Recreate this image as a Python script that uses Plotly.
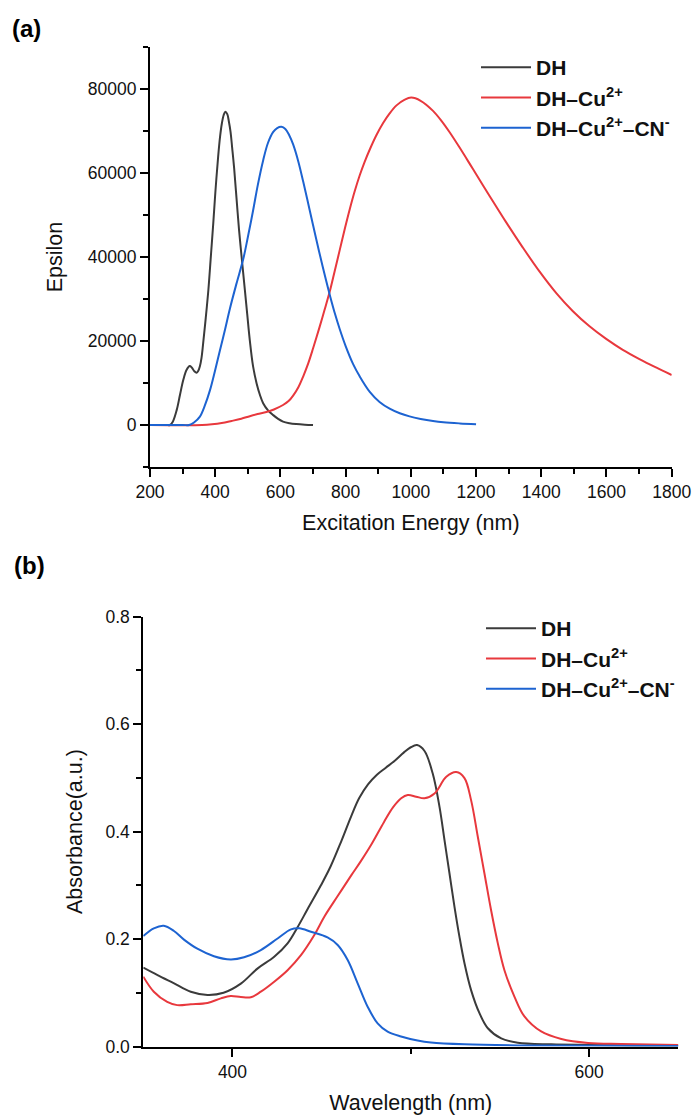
import plotly.graph_objects as go

# ---------------- Panel (a): computed spectra ----------------
a_dh_x = [200, 250, 261, 270, 282, 292, 302, 312, 322, 328, 336, 343, 348, 353, 358, 363, 371, 379,
          386, 394, 401, 409, 415, 420, 426, 431, 437, 442, 447, 452, 458, 465, 473, 481, 491, 498,
          506, 516, 527, 537, 547, 562, 578, 593, 608, 628, 649, 675, 700]
a_dh_y = [0, 0, 0, 800, 3600, 7200, 10700, 13100, 14050, 13700, 12800, 12460, 12900, 14000, 16000,
          19450, 25500, 32140, 39500, 48000, 56000, 63900, 68700, 71600, 73800, 74600, 74000, 72200,
          69800, 66000, 61200, 54300, 46500, 40000, 32100, 26500, 20200, 14000, 9900, 7200, 5200,
          3500, 2350, 1450, 800, 420, 220, 80, 0]

a_cu_x = [200, 360, 390, 420, 450, 480, 506, 530, 557, 580, 608, 625, 639, 655, 670, 685, 700, 720,
          735, 751, 766, 782, 798, 813, 828, 843, 858, 874, 895, 915, 935, 956, 980, 1001, 1030, 1068,
          1095, 1119, 1150, 1190, 1241, 1292, 1343, 1395, 1446, 1497, 1548, 1599, 1650, 1701, 1752, 1800]
a_cu_y = [0, 0, 150, 450, 950, 1500, 2100, 2600, 3100, 3700, 4760, 5700, 7000, 9000, 11600, 14600,
          18200, 23300, 27300, 31700, 36500, 41700, 46900, 51500, 55700, 59400, 62600, 65600, 69100,
          71900, 74200, 76100, 77400, 77950, 77200, 74800, 72300, 69700, 66000, 61000, 54600, 48300,
          42300, 36500, 31400, 27100, 23500, 20500, 17900, 15700, 13700, 11900]

a_cn_x = [200, 300, 320, 335, 353, 368, 384, 399, 414, 430, 445, 465, 486, 500, 516, 531, 547, 562,
          578, 590, 603, 615, 627, 639, 655, 670, 685, 700, 718, 735, 753, 768, 782, 800, 823, 843,
          874, 904, 935, 966, 996, 1030, 1068, 1100, 1150, 1200]
a_cn_y = [0, 0, 0, 600, 2000, 4600, 8300, 12800, 17600, 22700, 27700, 33600, 39500, 44700, 51000,
          57300, 63000, 67200, 69800, 70700, 71000, 70500, 69000, 66800, 62700, 57900, 52800, 47600,
          41500, 36000, 30500, 26300, 22800, 18800, 14500, 11600, 7900, 5500, 3900, 2800, 2050, 1450,
          950, 650, 380, 200]

# ---------------- Panel (b): absorbance spectra ----------------
b_dh_x = [350, 358, 367, 376.6, 386, 395, 404.7, 414, 423.4, 430.9, 436.5, 442, 449.6, 455, 461,
          466.5, 471, 476, 481, 486, 491, 496, 500, 503.5, 507.7, 512.3, 516.1, 518.9, 521.7, 524.5,
          527.3, 530.1, 533.8, 538.5, 543.2, 550.7, 560, 578.8, 600, 625, 650]
b_dh_y = [0.147, 0.133, 0.118, 0.102, 0.096, 0.100, 0.117, 0.145, 0.167, 0.192, 0.222, 0.255, 0.300,
          0.335, 0.382, 0.428, 0.462, 0.488, 0.506, 0.519, 0.532, 0.547, 0.557, 0.561, 0.550, 0.508,
          0.446, 0.384, 0.322, 0.260, 0.204, 0.155, 0.105, 0.062, 0.034, 0.015, 0.007, 0.004, 0.003,
          0.002, 0.002]

b_cu_x = [350, 355.9, 363.4, 369, 376.6, 386, 393.5, 399, 404.7, 410.3, 415.9, 423.4, 430.9, 438.4,
          445.9, 451.5, 459, 466.5, 472, 477.7, 485, 490, 494.6, 498.3, 503, 507.7, 513.3, 519.9,
          525.5, 530.1, 533.8, 537.6, 541.3, 545, 548.8, 552.5, 558.1, 563.7, 573.1, 584.4, 599.4,
          618, 650]
b_cu_y = [0.130, 0.102, 0.083, 0.077, 0.0786, 0.081, 0.0896, 0.094, 0.092, 0.0917, 0.102, 0.1206,
          0.142, 0.170, 0.2075, 0.2415, 0.280, 0.318, 0.345, 0.375, 0.418, 0.445, 0.462, 0.468, 0.465,
          0.462, 0.471, 0.502, 0.511, 0.4996, 0.4586, 0.390, 0.322, 0.254, 0.192, 0.142, 0.093, 0.056,
          0.028, 0.014, 0.0066, 0.0047, 0.003]

b_cn_x = [350, 355.9, 361.5, 367.2, 372.8, 380.3, 389.6, 399, 406.5, 415.9, 425.3, 432.8, 437.5, 444,
          453.3, 459, 464.6, 470.2, 475.8, 481.4, 487, 494.5, 503.8, 511.3, 530, 560, 600, 650]
b_cn_y = [0.2056, 0.220, 0.2248, 0.215, 0.199, 0.182, 0.168, 0.162, 0.166, 0.1795, 0.201, 0.218,
          0.220, 0.2136, 0.203, 0.189, 0.161, 0.1176, 0.074, 0.043, 0.0276, 0.0186, 0.0111, 0.0074,
          0.004, 0.002, 0.0015, 0.001]

series_names = ['<b>DH</b>', '<b>DH–Cu<sup>2+</sup></b>', '<b>DH–Cu<sup>2+</sup>–CN<sup>-</sup></b>']
series_colors = ['#3b3b3b', '#e8383d', '#1d63d1']

FONT = 'Liberation Sans, Arial, sans-serif'

fig = go.Figure()

panel_a = [(a_dh_x, a_dh_y), (a_cu_x, a_cu_y), (a_cn_x, a_cn_y)]
panel_b = [(b_dh_x, b_dh_y), (b_cu_x, b_cu_y), (b_cn_x, b_cn_y)]

for i, (xs, ys) in enumerate(panel_a):
    fig.add_trace(go.Scatter(x=xs, y=ys, mode='lines', name=series_names[i],
                             line=dict(color=series_colors[i], width=2, shape='spline', smoothing=1.0),
                             xaxis='x', yaxis='y', legend='legend', legendgroup='a%d' % i))
for i, (xs, ys) in enumerate(panel_b):
    fig.add_trace(go.Scatter(x=xs, y=ys, mode='lines', name=series_names[i],
                             line=dict(color=series_colors[i], width=2, shape='spline', smoothing=1.0),
                             xaxis='x2', yaxis='y2', legend='legend2', legendgroup='b%d' % i))

W, H = 695, 1115
tickfont = dict(family=FONT, size=17.5, color='#111111')
titlefont = dict(family=FONT, size=21.5, color='#111111')
axis_common = dict(showline=True, linecolor='black', linewidth=2, ticks='outside', ticklen=8,
                   tickwidth=2, tickcolor='black', showgrid=False, zeroline=False,
                   tickfont=tickfont, automargin=False)

fig.update_layout(
    width=W, height=H,
    margin=dict(l=0, r=0, t=0, b=0, autoexpand=False),
    paper_bgcolor='white', plot_bgcolor='white',
    font=dict(family=FONT, color='#111111'),
    xaxis=dict(domain=[150 / W, 671.7 / W], anchor='y', range=[200, 1800], dtick=200, tick0=0,
               minor=dict(dtick=100, ticks='outside', ticklen=5, tickwidth=2, tickcolor='black'),
               title=dict(text='Excitation Energy (nm)', font=titlefont, standoff=14),
               **axis_common),
    yaxis=dict(domain=[1 - 467 / H, 1 - 47 / H], anchor='x', range=[-10000, 90000], dtick=20000,
               tick0=0, tickformat='d',
               minor=dict(dtick=10000, tick0=0, ticks='outside', ticklen=5, tickwidth=2, tickcolor='black'),
               title=dict(text='Epsilon', font=titlefont, standoff=19),
               **axis_common),
    xaxis2=dict(domain=[143.3 / W, 678.3 / W], anchor='y2', range=[350, 650], dtick=200, tick0=0,
                minor=dict(dtick=100, ticks='outside', ticklen=5, tickwidth=2, tickcolor='black'),
                title=dict(text='Wavelength (nm)', font=titlefont, standoff=14),
                **axis_common),
    yaxis2=dict(domain=[1 - 1046.5 / H, 1 - 616.7 / H], anchor='x2', range=[0, 0.8], dtick=0.2,
                tick0=0, tickformat='.1f',
                minor=dict(dtick=0.1, ticks='outside', ticklen=5, tickwidth=2, tickcolor='black'),
                title=dict(text='Absorbance(a.u.)', font=titlefont, standoff=17),
                **axis_common),
    legend=dict(x=476 / W, y=1 - 47 / H, xanchor='left', yanchor='top', bgcolor='rgba(0,0,0,0)',
                font=dict(family=FONT, size=21, color='#111111'), itemwidth=50, tracegroupgap=0),
    legend2=dict(x=481 / W, y=1 - 608 / H, xanchor='left', yanchor='top', bgcolor='rgba(0,0,0,0)',
                 font=dict(family=FONT, size=21, color='#111111'), itemwidth=50, tracegroupgap=0),
    showlegend=True,
    annotations=[
        dict(text='<b>(a)</b>', x=10 / W, y=1 - 28 / H, xref='paper', yref='paper',
             xanchor='left', yanchor='middle', showarrow=False,
             font=dict(family=FONT, size=24, color='black')),
        dict(text='<b>(b)</b>', x=12 / W, y=1 - 565 / H, xref='paper', yref='paper',
             xanchor='left', yanchor='middle', showarrow=False,
             font=dict(family=FONT, size=24, color='black')),
    ],
)

fig.write_html('out.html')
